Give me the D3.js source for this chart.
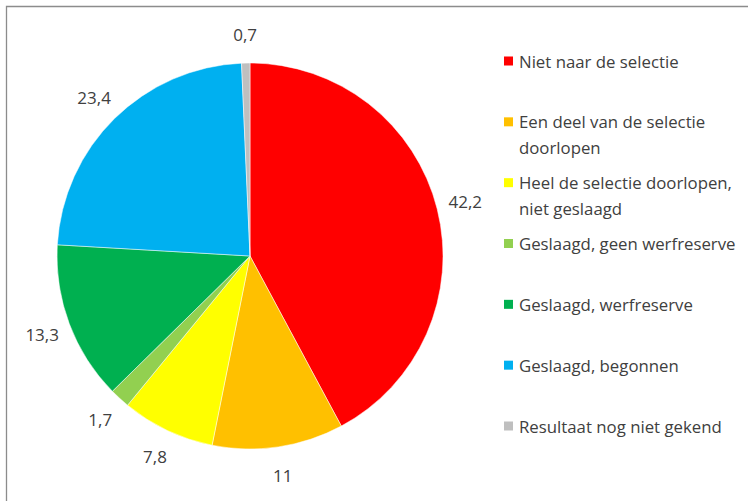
<!DOCTYPE html>
<html>
<head>
<meta charset="UTF-8">
<title>Selectie resultaten</title>
<script src="https://d3js.org/d3.v7.min.js"></script>
<style>
body { margin: 0; background: #fff; }
svg { display: block; font-family: "Open Sans", Lato, sans-serif; }
</style>
</head>
<body>
<div id="chart"></div>
<script>
// categories (legend lines) and values
var categories = [
  ["Niet naar de selectie"],
  ["Een deel van de selectie", "doorlopen"],
  ["Heel de selectie doorlopen,", "niet geslaagd"],
  ["Geslaagd, geen werfreserve"],
  ["Geslaagd, werfreserve"],
  ["Geslaagd, begonnen"],
  ["Resultaat nog niet gekend"]
];
var values = [42.2, 11, 7.8, 1.7, 13.3, 23.4, 0.7];
var valueLabels = ["42,2", "11", "7,8", "1,7", "13,3", "23,4", "0,7"];
var colors = ["#FF0000", "#FFC000", "#FFFF00", "#92D050", "#00B050", "#00B0F0", "#BFBFBF"];

var W = 748, H = 501;
var cx = 250, cy = 256, R = 193;

var svg = d3.select("#chart").append("svg")
  .attr("width", W).attr("height", H);

// frame (only top and left show)
svg.append("path")
  .attr("d", "M6.5,501 V6.5 H748")
  .attr("fill", "none")
  .attr("stroke", "#8c8c8c")
  .attr("stroke-width", 1.3);

var pie = d3.pie().sort(null).value(function(d){ return d; });
var arcs = pie(values);
var arc = d3.arc().innerRadius(0).outerRadius(R);
var labelArc = d3.arc().innerRadius(222).outerRadius(222);

var g = svg.append("g").attr("transform", "translate(" + cx + "," + cy + ")");

g.selectAll("path.slice")
  .data(arcs)
  .enter().append("path")
  .attr("class", "slice")
  .attr("d", arc)
  .attr("fill", function(d, i){ return colors[i]; })
  .attr("stroke", "#fff")
  .attr("stroke-width", 0.5);

g.selectAll("text.val")
  .data(arcs)
  .enter().append("text")
  .attr("class", "val")
  .attr("transform", function(d){ return "translate(" + labelArc.centroid(d) + ")"; })
  .attr("text-anchor", "middle")
  .attr("dominant-baseline", "central")
  .attr("font-size", 17)
  .attr("fill", "#404040")
  .text(function(d, i){ return valueLabels[i]; });

// legend
var legend = svg.append("g").attr("transform", "translate(504,0)");
var rowY = d3.scalePoint().domain(d3.range(categories.length)).range([61, 426]);

var item = legend.selectAll("g.item")
  .data(categories)
  .enter().append("g")
  .attr("class", "item")
  .attr("transform", function(d, i){ return "translate(0," + rowY(i) + ")"; });

item.append("rect")
  .attr("x", 0).attr("y", -4.5)
  .attr("width", 9).attr("height", 9)
  .attr("fill", function(d, i){ return colors[i]; });

item.append("text")
  .attr("x", 15)
  .attr("font-size", 16.8)
  .attr("fill", "#404040")
  .selectAll("tspan")
  .data(function(d){ return d; })
  .enter().append("tspan")
  .attr("x", 15)
  .attr("y", function(d, j){ return j * 26; })
  .attr("dominant-baseline", "central")
  .text(function(d){ return d; });
</script>
</body>
</html>
